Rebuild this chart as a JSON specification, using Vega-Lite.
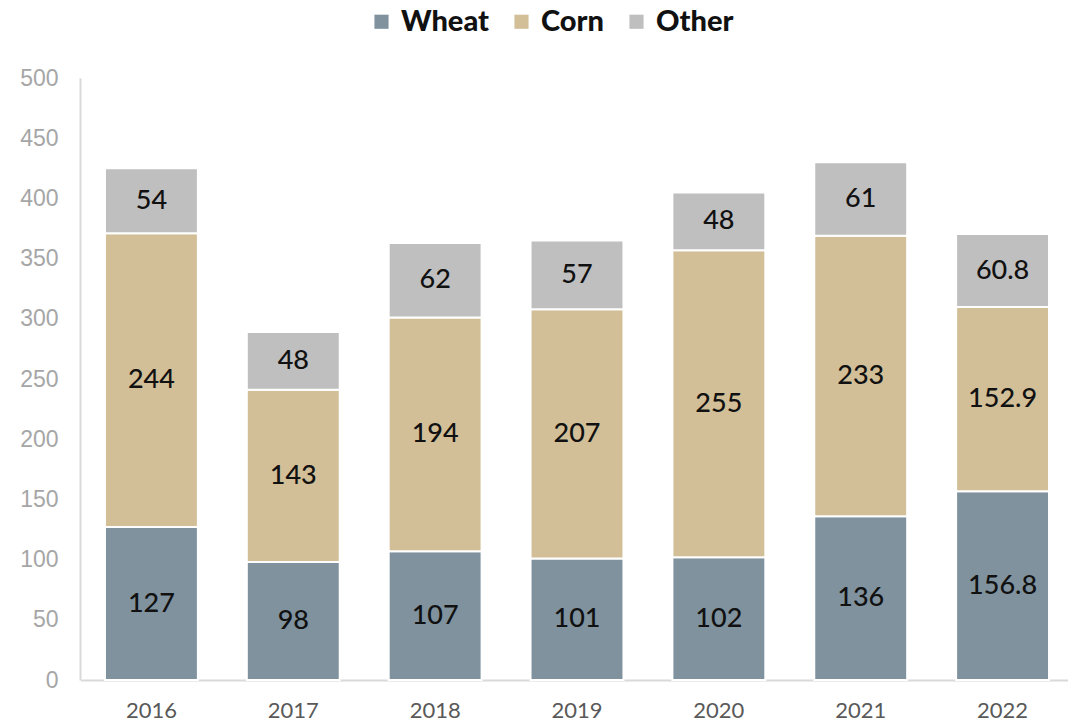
{
  "$schema": "https://vega.github.io/schema/vega-lite/v6.json",
  "width": 988,
  "height": 602,
  "autosize": {"type": "none"},
  "padding": {"left": 80, "top": 78, "right": 0, "bottom": 43},
  "background": "white",
  "config": {"view": {"stroke": null}, "font": "Lato"},
  "data": {"values": [
    {"year": "2016", "crop": "Wheat", "value": 127, "o": 1},
    {"year": "2016", "crop": "Corn", "value": 244, "o": 2},
    {"year": "2016", "crop": "Other", "value": 54, "o": 3},
    {"year": "2017", "crop": "Wheat", "value": 98, "o": 1},
    {"year": "2017", "crop": "Corn", "value": 143, "o": 2},
    {"year": "2017", "crop": "Other", "value": 48, "o": 3},
    {"year": "2018", "crop": "Wheat", "value": 107, "o": 1},
    {"year": "2018", "crop": "Corn", "value": 194, "o": 2},
    {"year": "2018", "crop": "Other", "value": 62, "o": 3},
    {"year": "2019", "crop": "Wheat", "value": 101, "o": 1},
    {"year": "2019", "crop": "Corn", "value": 207, "o": 2},
    {"year": "2019", "crop": "Other", "value": 57, "o": 3},
    {"year": "2020", "crop": "Wheat", "value": 102, "o": 1},
    {"year": "2020", "crop": "Corn", "value": 255, "o": 2},
    {"year": "2020", "crop": "Other", "value": 48, "o": 3},
    {"year": "2021", "crop": "Wheat", "value": 136, "o": 1},
    {"year": "2021", "crop": "Corn", "value": 233, "o": 2},
    {"year": "2021", "crop": "Other", "value": 61, "o": 3},
    {"year": "2022", "crop": "Wheat", "value": 156.8, "o": 1},
    {"year": "2022", "crop": "Corn", "value": 152.9, "o": 2},
    {"year": "2022", "crop": "Other", "value": 60.8, "o": 3}
  ]},
  "transform": [
    {"stack": "value", "groupby": ["year"], "sort": [{"field": "o", "order": "ascending"}], "as": ["y0", "y1"]},
    {"calculate": "(datum.y0 + datum.y1) / 2", "as": "mid"}
  ],
  "encoding": {
    "x": {
      "field": "year", "type": "nominal", "title": null,
      "scale": {"paddingInner": 0.345, "paddingOuter": 0.1725, "range": [0.5, 993.5]},
      "axis": {"labelAngle": 0, "labelFontSize": 22, "labelColor": "#595959", "labelPadding": 20, "ticks": false, "domainColor": "#D9D9D9", "domainWidth": 2, "labelFont": "Lato"}
    }
  },
  "layer": [
    {
      "mark": {"type": "bar", "stroke": "white", "strokeWidth": 2},
      "encoding": {
        "y": {
          "field": "y0", "type": "quantitative", "title": null,
          "scale": {"domain": [0, 500]},
          "axis": {"values": [0, 50, 100, 150, 200, 250, 300, 350, 400, 450, 500], "grid": false, "ticks": false, "labelFontSize": 23, "labelColor": "#A6A6A6", "labelPadding": 22, "domainColor": "#D9D9D9", "domainWidth": 2, "labelFont": "Liberation Sans"}
        },
        "y2": {"field": "y1"},
        "color": {
          "field": "crop", "type": "nominal",
          "scale": {"domain": ["Wheat", "Corn", "Other"], "range": ["#7F929E", "#D2BF98", "#BFBFBF"]},
          "legend": {
            "title": null, "orient": "none", "direction": "horizontal",
            "legendX": 287, "legendY": -71,
            "symbolType": "square", "symbolSize": 200, "symbolStrokeWidth": 0,
            "labelFontSize": 29, "labelFontWeight": 900, "labelColor": "#111111",
            "columnPadding": 18, "labelOffset": 5, "labelFont": "Lato"
          }
        }
      }
    },
    {
      "mark": {"type": "text", "fontSize": 27, "color": "#111111", "font": "Lato", "fontWeight": 500},
      "encoding": {
        "y": {"field": "mid", "type": "quantitative"},
        "text": {"field": "value", "type": "quantitative"}
      }
    }
  ]
}
